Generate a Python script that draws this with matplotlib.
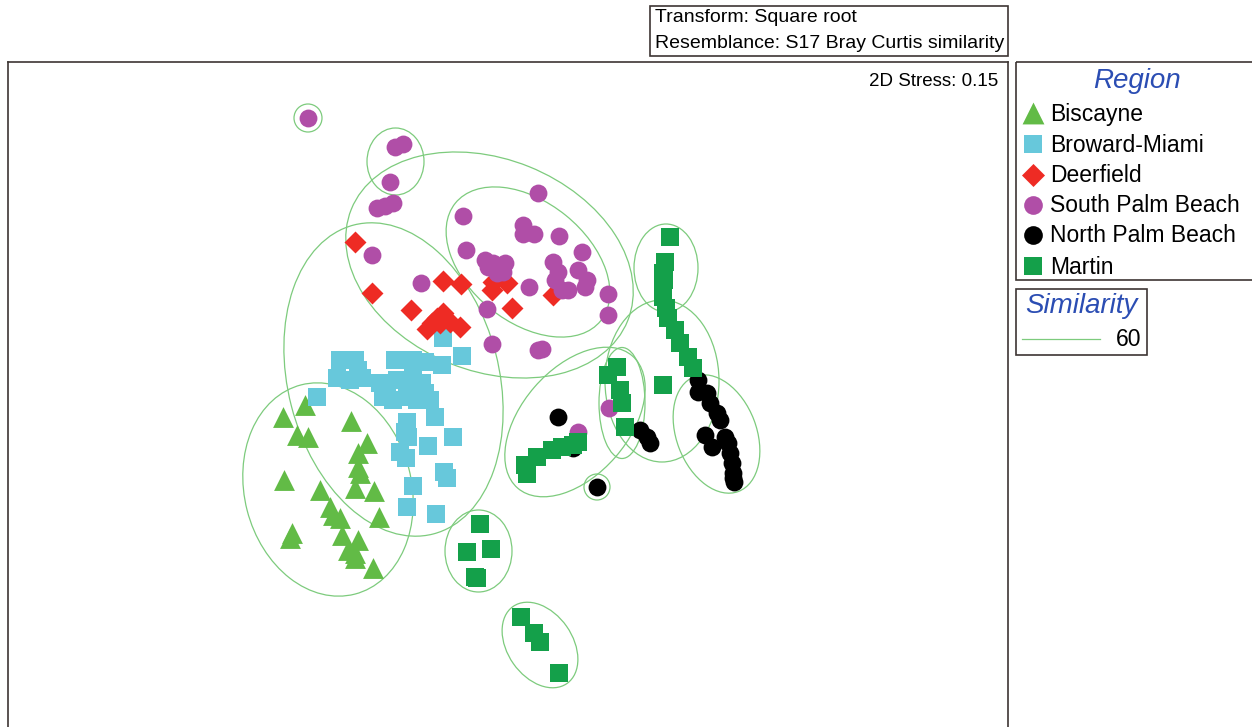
import matplotlib.pyplot as plt
from matplotlib.patches import Ellipse, Rectangle

plt.rcParams['font.family'] = ['Liberation Sans', 'DejaVu Sans']

# nMDS ordination coordinates (plot units)
bis_x = [283, 305, 351, 297, 308, 367, 358, 358, 360, 355, 284, 320, 374, 330, 333, 340, 379,
         292, 290, 342, 358, 348, 355, 355, 373]
bis_y = [417, 405, 421, 435, 437, 443, 453, 467, 473, 488, 480, 490, 491, 507, 515, 518, 517,
         533, 538, 535, 540, 550, 553, 558, 568]

bro_x = [443, 462, 340, 355, 358, 337, 350, 362, 395, 413, 425, 442, 380, 387, 397, 407, 413,
         422, 425, 430, 383, 393, 407, 417, 435, 317, 407, 405, 408, 453, 428, 400, 406, 444,
         447, 413, 407, 436]
bro_y = [338, 356, 360, 360, 370, 378, 380, 378, 360, 360, 362, 365, 383, 390, 380, 383, 377,
         383, 393, 400, 397, 400, 397, 400, 417, 397, 422, 432, 437, 437, 446, 452, 458, 472,
         478, 486, 507, 514]

dee_x = [355, 372, 443, 461, 411, 427, 437, 443, 450, 460, 440, 432, 493, 507, 492, 512, 553]
dee_y = [242, 293, 281, 284, 310, 329, 318, 313, 322, 327, 323, 323, 282, 283, 290, 308, 295]

spb_x = [308, 395, 403, 390, 377, 385, 393, 538, 463, 523, 523, 534, 559, 466, 582, 372, 485,
         493, 505, 503, 497, 488, 553, 558, 555, 562, 568, 578, 587, 585, 421, 529, 608, 487,
         608, 492, 538, 542, 609, 578]
spb_y = [118, 147, 144, 182, 208, 206, 203, 193, 216, 225, 234, 234, 236, 250, 252, 255, 260,
         263, 263, 272, 273, 267, 262, 272, 280, 290, 290, 270, 280, 287, 283, 287, 294, 309,
         315, 344, 350, 349, 408, 432]

npb_x = [558, 597, 573, 640, 647, 650, 698, 698, 707, 710, 717, 720, 705, 712, 725, 728, 730,
         732, 733, 733, 734]
npb_y = [417, 487, 448, 430, 437, 443, 380, 392, 393, 403, 413, 420, 435, 447, 437, 443, 453,
         463, 473, 478, 482]

mar_x = [670, 665, 663, 664, 663, 663, 666, 668, 675, 680, 688, 693, 663, 617, 608, 620, 622,
         625, 527, 525, 537, 552, 562, 573, 578, 480, 467, 491, 475, 477, 521, 534, 540, 559]
mar_y = [237, 262, 273, 280, 287, 297, 308, 318, 330, 343, 357, 368, 385, 367, 375, 390, 403,
         427, 474, 465, 457, 450, 447, 445, 442, 524, 552, 549, 577, 578, 617, 633, 642, 673]

regions = ['Biscayne', 'Broward-Miami', 'Deerfield', 'South Palm Beach', 'North Palm Beach', 'Martin']
xs = [bis_x, bro_x, dee_x, spb_x, npb_x, mar_x]
ys = [bis_y, bro_y, dee_y, spb_y, npb_y, mar_y]
colors = ['#62BB46', '#67C8DB', '#EE2B24', '#B04EA7', '#000000', '#14A04A']
markers = ['^', 's', 'D', 'o', 'o', 's']
sizes = [225, 150, 125, 165, 165, 150]

# 60% similarity contours (centre x, centre y, width, height, angle)
ell_x = [308, 395.5, 528, 489.5, 393.5, 328, 478.5, 540, 575, 597, 622, 666, 662, 716.5]
ell_y = [118, 161.5, 262, 265, 379.5, 489.5, 551, 645, 422, 487, 403, 268, 381, 434]
ell_w = [28, 57, 187, 298, 319, 216, 67, 94, 175, 26, 46, 64, 114, 123]
ell_h = [28, 67, 120, 212, 211, 167, 82, 65, 107, 26, 111, 88, 162, 80]
ell_a = [0, 0, 39, 22, 75.6, 75.6, 0, 55, -49, 0, 0, 0, 0, 69]
similarity = 60

W, H = 1252, 727
fig = plt.figure(figsize=(W / 100, H / 100), dpi=100)
frame_col = '#3d3533'
blue = '#2B4DB3'

ax = fig.add_axes([7.5 / W, 0, (1008 - 7.5) / W, (H - 62) / H])
ax.set_xlim(7.5, 1008)
ax.set_ylim(727, 62)
ax.set_xticks([])
ax.set_yticks([])
for s in ['left', 'top', 'right']:
    ax.spines[s].set_color(frame_col)
    ax.spines[s].set_linewidth(1.2)
ax.spines['bottom'].set_visible(False)

for cx, cy, w, h, a in zip(ell_x, ell_y, ell_w, ell_h, ell_a):
    ax.add_patch(Ellipse((cx, cy), w, h, angle=a, fill=False, edgecolor='#7DCB7D',
                         linewidth=0.9, zorder=1))

for x, y, c, m, sz in zip(xs, ys, colors, markers, sizes):
    ax.scatter(x, y, s=sz, c=c, marker=m, linewidths=0, zorder=2)

ax.text(998, 82, '2D Stress: 0.15', ha='right', va='center', fontsize=13.5)

# overlay in figure pixels for the boxes around the plot
ov = fig.add_axes([0, 0, 1, 1])
ov.set_xlim(0, W)
ov.set_ylim(H, 0)
ov.axis('off')
ov.patch.set_alpha(0)

ov.add_patch(Rectangle((650, 6), 358, 50, fill=False, edgecolor=frame_col, linewidth=1.2))
ov.text(655, 18, 'Transform: Square root', va='center', fontsize=14)
ov.text(655, 43, 'Resemblance: S17 Bray Curtis similarity', va='center', fontsize=14)

ov.add_patch(Rectangle((1016, 62), 260, 218, fill=False, edgecolor=frame_col, linewidth=1.2))
ov.text(1137, 81, 'Region', ha='center', va='center', fontsize=20, style='italic', color=blue)
row_y = [113, 144, 175, 205, 235, 266]
for name, c, m, sz, ry in zip(regions, colors, markers, sizes, row_y):
    ov.scatter([1033], [ry], s=sz * 1.1, c=c, marker=m, linewidths=0)
    ov.text(1050, ry + 1, name, va='center', fontsize=16.5)

ov.add_patch(Rectangle((1016, 289), 131, 66, fill=False, edgecolor=frame_col, linewidth=1.2))
ov.text(1081, 306, 'Similarity', ha='center', va='center', fontsize=20, style='italic', color=blue)
ov.plot([1022, 1100], [339, 339], color='#7DCB7D', linewidth=0.9)
ov.text(1141, 340, str(similarity), ha='right', va='center', fontsize=16.5)

fig.savefig('out.png', dpi=100)
